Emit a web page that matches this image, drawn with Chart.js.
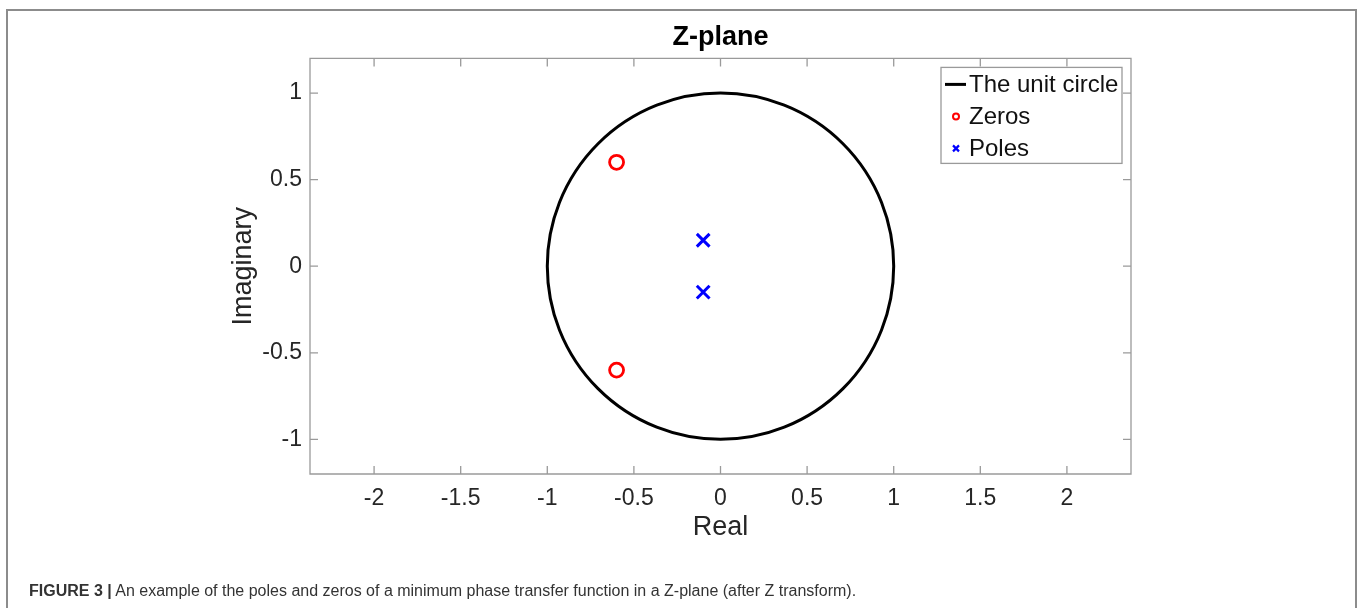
<!DOCTYPE html>
<html>
<head>
<meta charset="utf-8">
<title>Z-plane</title>
<script src="https://cdn.jsdelivr.net/npm/chart.js@4.4.1/dist/chart.umd.min.js"></script>
<style>
  html, body { margin: 0; padding: 0; background: #fff; }
  #wrap { position: relative; width: 1360px; height: 608px; overflow: hidden; background: #fff; }
  #frame {
    position: absolute; left: 6px; top: 9px; width: 1351px; height: 640px;
    border: 2px solid #8c8c8c; border-bottom: none; box-sizing: border-box;
  }
  #chart { position: absolute; left: 0; top: 0; }
  #caption {
    position: absolute; left: 29px; top: 582px; white-space: nowrap;
    font: 16px "Liberation Sans", Arial, sans-serif; line-height: 18px; color: #333;
  }
</style>
</head>
<body>
<div id="wrap">
  <div id="frame"></div>
  <canvas id="chart" width="1360" height="608"></canvas>
  <div id="caption"><b>FIGURE 3 |</b> An example of the poles and zeros of a minimum phase transfer function in a Z-plane (after Z transform).</div>
</div>
<script>
// data
var xTicks = [-2, -1.5, -1, -0.5, 0, 0.5, 1, 1.5, 2];
var yTicks = [-1, -0.5, 0, 0.5, 1];
var zerosReal = [-0.6, -0.6];
var zerosImag = [0.6, -0.6];
var polesReal = [-0.1, -0.1];
var polesImag = [0.15, -0.15];
var circleCenter = [0, 0];
var circleRadius = [1];
var seriesNames = ["The unit circle", "Zeros", "Poles"];

var FONT = '"Liberation Sans", Arial, sans-serif';
var BOX = "#9a9a9a";

function pts(xs, ys) {
  return xs.map(function (x, i) { return { x: x, y: ys[i] }; });
}

// unit circle drawn through the scales
var unitCircle = {
  id: "unitCircle",
  beforeDatasetsDraw: function (chart) {
    var ds = chart.data.datasets[0];
    var sx = chart.scales.x, sy = chart.scales.y, ctx = chart.ctx;
    var cx = sx.getPixelForValue(circleCenter[0]);
    var cy = sy.getPixelForValue(circleCenter[1]);
    var rx = sx.getPixelForValue(circleCenter[0] + circleRadius[0]) - cx;
    var ry = cy - sy.getPixelForValue(circleCenter[1] + circleRadius[0]);
    ctx.save();
    ctx.beginPath();
    ctx.ellipse(cx, cy, rx, ry, 0, 0, Math.PI * 2);
    ctx.strokeStyle = ds.borderColor;
    ctx.lineWidth = ds.borderWidth;
    ctx.stroke();
    ctx.restore();
  }
};

// matlab style box with inward ticks on all four sides
var boxTicks = {
  id: "boxTicks",
  afterDatasetsDraw: function (chart) {
    var a = chart.chartArea, ctx = chart.ctx;
    var sx = chart.scales.x, sy = chart.scales.y;
    var len = 8;
    ctx.save();
    ctx.strokeStyle = BOX;
    ctx.lineWidth = 1.3;
    ctx.beginPath();
    ctx.rect(a.left, a.top, a.right - a.left, a.bottom - a.top);
    xTicks.forEach(function (v) {
      var px = sx.getPixelForValue(v);
      ctx.moveTo(px, a.bottom); ctx.lineTo(px, a.bottom - len);
      ctx.moveTo(px, a.top); ctx.lineTo(px, a.top + len);
    });
    yTicks.forEach(function (v) {
      var py = sy.getPixelForValue(v);
      ctx.moveTo(a.left, py); ctx.lineTo(a.left + len, py);
      ctx.moveTo(a.right, py); ctx.lineTo(a.right - len, py);
    });
    ctx.stroke();
    ctx.restore();
  }
};

// legend box inside the axes, top right
var boxLegend = {
  id: "boxLegend",
  afterDraw: function (chart) {
    var a = chart.chartArea, ctx = chart.ctx;
    var ds = chart.data.datasets;
    var w = 181, h = 96;
    var x0 = a.right - 9 - w, y0 = a.top + 9;
    ctx.save();
    ctx.fillStyle = "#fff";
    ctx.fillRect(x0, y0, w, h);
    ctx.strokeStyle = BOX;
    ctx.lineWidth = 1.3;
    ctx.strokeRect(x0, y0, w, h);
    ctx.font = "24px " + FONT;
    ctx.fillStyle = "#111";
    ctx.textBaseline = "middle";
    var mx = x0 + 15;
    ds.forEach(function (d, i) {
      var cy = y0 + 17 + i * 32;
      ctx.save();
      if (i === 0) {
        ctx.strokeStyle = d.borderColor; ctx.lineWidth = 3;
        ctx.beginPath(); ctx.moveTo(x0 + 4, cy); ctx.lineTo(x0 + 25, cy); ctx.stroke();
      } else if (d.pointStyle === "circle") {
        ctx.strokeStyle = d.borderColor; ctx.lineWidth = 2;
        ctx.beginPath(); ctx.arc(mx, cy, 3, 0, Math.PI * 2); ctx.stroke();
      } else {
        ctx.strokeStyle = d.borderColor; ctx.lineWidth = 2.2;
        ctx.beginPath();
        ctx.moveTo(mx - 3, cy - 3); ctx.lineTo(mx + 3, cy + 3);
        ctx.moveTo(mx + 3, cy - 3); ctx.lineTo(mx - 3, cy + 3);
        ctx.stroke();
      }
      ctx.restore();
      ctx.fillText(d.label, x0 + 28, cy + 1);
    });
    ctx.restore();
  }
};

new Chart(document.getElementById("chart"), {
  type: "scatter",
  data: {
    datasets: [
      {
        label: seriesNames[0],
        type: "line",
        data: [],
        borderColor: "#000000",
        borderWidth: 3,
        pointRadius: 0
      },
      {
        label: seriesNames[1],
        data: pts(zerosReal, zerosImag),
        pointStyle: "circle",
        pointRadius: 7,
        borderWidth: 2.8,
        borderColor: "#ff0000",
        backgroundColor: "rgba(0,0,0,0)"
      },
      {
        label: seriesNames[2],
        data: pts(polesReal, polesImag),
        pointStyle: "crossRot",
        pointRadius: 9,
        borderWidth: 3,
        borderColor: "#0000ff",
        backgroundColor: "#0000ff"
      }
    ]
  },
  options: {
    responsive: false,
    animation: false,
    devicePixelRatio: 1,
    events: [],
    layout: { padding: { left: 223, right: 229, top: 10, bottom: 61 } },
    plugins: {
      legend: { display: false },
      tooltip: { enabled: false },
      title: {
        display: true,
        text: "Z-plane",
        fullSize: false,
        color: "#000",
        font: { family: FONT, size: 27, weight: "bold" },
        padding: { top: 11, bottom: 5 }
      }
    },
    scales: {
      x: {
        type: "linear",
        min: -2.37,
        max: 2.37,
        afterBuildTicks: function (s) { s.ticks = xTicks.map(function (v) { return { value: v }; }); },
        afterFit: function (s) { s.height = 73; },
        grid: { display: false, drawTicks: false },
        border: { display: false },
        ticks: {
          padding: 11,
          autoSkip: false,
          maxRotation: 0,
          color: "#262626",
          font: { family: FONT, size: 23 },
          callback: function (v) { return String(v); }
        },
        title: {
          display: true,
          text: "Real",
          color: "#262626",
          font: { family: FONT, size: 27 },
          padding: { top: 4, bottom: 3 }
        }
      },
      y: {
        type: "linear",
        min: -1.2,
        max: 1.2,
        afterBuildTicks: function (s) { s.ticks = yTicks.map(function (v) { return { value: v }; }); },
        afterFit: function (s) { s.width = 87; },
        grid: { display: false, drawTicks: false },
        border: { display: false },
        ticks: {
          padding: 8,
          autoSkip: false,
          color: "#262626",
          font: { family: FONT, size: 23 },
          callback: function (v) { return String(v); }
        },
        title: {
          display: true,
          text: "Imaginary",
          color: "#262626",
          font: { family: FONT, size: 27 },
          padding: { top: 4, bottom: 4 }
        }
      }
    }
  },
  plugins: [unitCircle, boxTicks, boxLegend]
});
</script>
</body>
</html>
